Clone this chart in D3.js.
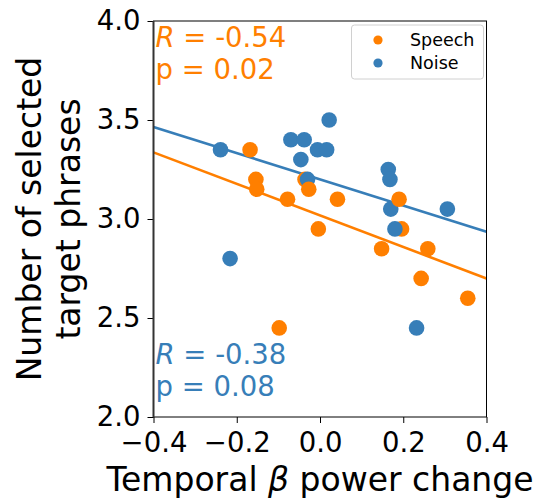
<!DOCTYPE html>
<html>
<head>
<meta charset="utf-8">
<script src="https://cdn.jsdelivr.net/npm/d3@7"></script>
<style>
  html, body { margin: 0; padding: 0; background: #fff; }
  svg { display: block; font-family: "DejaVu Sans", sans-serif; }
</style>
</head>
<body>
<svg id="chart" width="540" height="502"></svg>
<script>
// Temporal beta power change per subject vs. number of selected target phrases
const speechX = [-0.168, -0.154, -0.152, -0.078, -0.036, -0.004, 0.042, 0.148, 0.259, 0.243, 0.355, -0.098, 0.190, -0.027, 0.196];
const speechY = [3.35, 3.20, 3.15, 3.10, 3.20, 2.95, 3.10, 2.85, 2.85, 2.70, 2.60, 2.45, 3.10, 3.15, 2.95];
const noiseX = [-0.239, -0.216, -0.070, -0.038, -0.030, -0.046, -0.006, 0.016, 0.022, 0.164, 0.168, 0.170, 0.306, 0.232, 0.180];
const noiseY = [3.35, 2.80, 3.40, 3.40, 3.20, 3.30, 3.35, 3.35, 3.50, 3.25, 3.20, 3.05, 3.05, 2.45, 2.95];

const seriesNames = ["Speech", "Noise"];
const seriesColors = ["#ff7f00", "#377eb8"];
const statR = ["-0.54", "-0.38"];
const statP = ["0.02", "0.08"];

const xTicks = [-0.4, -0.2, 0.0, 0.2, 0.4];
const yTicks = [2.0, 2.5, 3.0, 3.5, 4.0];

const svg = d3.select("#chart");
const plotLeft = 153.5, plotRight = 486.5, plotTop = 21, plotBottom = 417;

const x = d3.scaleLinear().domain([-0.4, 0.4]).range([plotLeft, plotRight]);
const y = d3.scaleLinear().domain([2.0, 4.0]).range([plotBottom, plotTop]);

// least-squares fit for each group
function fit(xs, ys) {
  const mx = d3.mean(xs), my = d3.mean(ys);
  let sxy = 0, sxx = 0;
  xs.forEach((v, i) => { sxy += (v - mx) * (ys[i] - my); sxx += (v - mx) * (v - mx); });
  const b = sxy / sxx;
  return { b, a: my - b * mx };
}
const groups = [
  { xs: speechX, ys: speechY, color: seriesColors[0] },
  { xs: noiseX, ys: noiseY, color: seriesColors[1] }
];

const plot = svg.append("g");

// regression lines across the full x range
groups.forEach(g => {
  const f = fit(g.xs, g.ys);
  const dom = x.domain();
  plot.append("line")
    .attr("x1", x(dom[0])).attr("y1", y(f.a + f.b * dom[0]))
    .attr("x2", x(dom[1])).attr("y2", y(f.a + f.b * dom[1]))
    .attr("stroke", g.color).attr("stroke-width", 2.6);
});

// points, interleaved per subject
const pts = [];
speechX.forEach((v, i) => {
  pts.push({ x: speechX[i], y: speechY[i], c: seriesColors[0] });
  pts.push({ x: noiseX[i], y: noiseY[i], c: seriesColors[1] });
});
plot.selectAll("circle.pt").data(pts).enter().append("circle")
  .attr("class", "pt")
  .attr("cx", d => x(d.x)).attr("cy", d => y(d.y))
  .attr("r", 7.8).attr("fill", d => d.c);

// axes
const fmt = v => d3.format(".1f")(v).replace("-", "\u2212");
const xAxis = svg.append("g").attr("transform", `translate(0,${plotBottom})`)
  .call(d3.axisBottom(x).tickValues(xTicks).tickFormat(fmt).tickSize(6).tickPadding(8));
const yAxis = svg.append("g").attr("transform", `translate(${plotLeft},0)`)
  .call(d3.axisLeft(y).tickValues(yTicks).tickFormat(fmt).tickSize(6).tickPadding(7));
[xAxis, yAxis].forEach(a => {
  a.select(".domain").remove();
  a.selectAll(".tick line").attr("stroke", "#000").attr("stroke-width", 1);
  a.selectAll(".tick text").attr("fill", "#000").attr("font-size", 27.5)
    .attr("font-family", "DejaVu Sans");
});
xAxis.selectAll(".tick text").attr("dy", "0.76em");

// frame
svg.append("rect").attr("x", plotLeft).attr("y", plotTop)
  .attr("width", plotRight - plotLeft).attr("height", plotBottom - plotTop)
  .attr("fill", "none").attr("stroke", "#000").attr("stroke-width", 1);
svg.append("line").attr("x1", plotLeft).attr("x2", plotLeft).attr("y1", plotTop).attr("y2", plotBottom)
  .attr("stroke", "#333").attr("stroke-width", 2);

// correlation annotations
const statPos = [[47, 79], [364, 396]];
groups.forEach((g, i) => {
  const t1 = svg.append("text").attr("x", plotLeft + 2).attr("y", statPos[i][0])
    .attr("fill", g.color).attr("font-size", 27.5);
  t1.append("tspan").attr("font-style", "italic").text("R");
  t1.append("tspan").text(" = " + statR[i]);
  svg.append("text").attr("x", plotLeft + 2).attr("y", statPos[i][1])
    .attr("fill", g.color).attr("font-size", 27.5).text("p = " + statP[i]);
});

// legend
const lg = svg.append("g");
lg.append("rect").attr("x", 351.5).attr("y", 25).attr("width", 132).attr("height", 54)
  .attr("rx", 3).attr("fill", "#fff").attr("fill-opacity", 0.8)
  .attr("stroke", "#d0d0d0").attr("stroke-width", 1);
seriesNames.forEach((n, i) => {
  const cy = 40 + i * 23;
  lg.append("circle").attr("cx", 378).attr("cy", cy).attr("r", 4.6).attr("fill", seriesColors[i]);
  lg.append("text").attr("x", 410).attr("y", cy + 6).attr("font-size", 17.5).attr("fill", "#000").text(n);
});

// axis titles
const xl = svg.append("text").attr("x", (plotLeft + plotRight) / 2).attr("y", 491)
  .attr("text-anchor", "middle").attr("font-size", 33).attr("fill", "#000");
xl.append("tspan").text("Temporal ");
xl.append("tspan").attr("font-style", "italic").text("\u03b2");
xl.append("tspan").text(" power change");

const yl = svg.append("text").attr("transform", `translate(41,${(plotTop + plotBottom) / 2}) rotate(-90)`)
  .attr("text-anchor", "middle").attr("font-size", 33).attr("fill", "#000");
yl.append("tspan").attr("x", 0).attr("y", 0).text("Number of selected");
yl.append("tspan").attr("x", 0).attr("y", 39).text("target phrases");
</script>
</body>
</html>
